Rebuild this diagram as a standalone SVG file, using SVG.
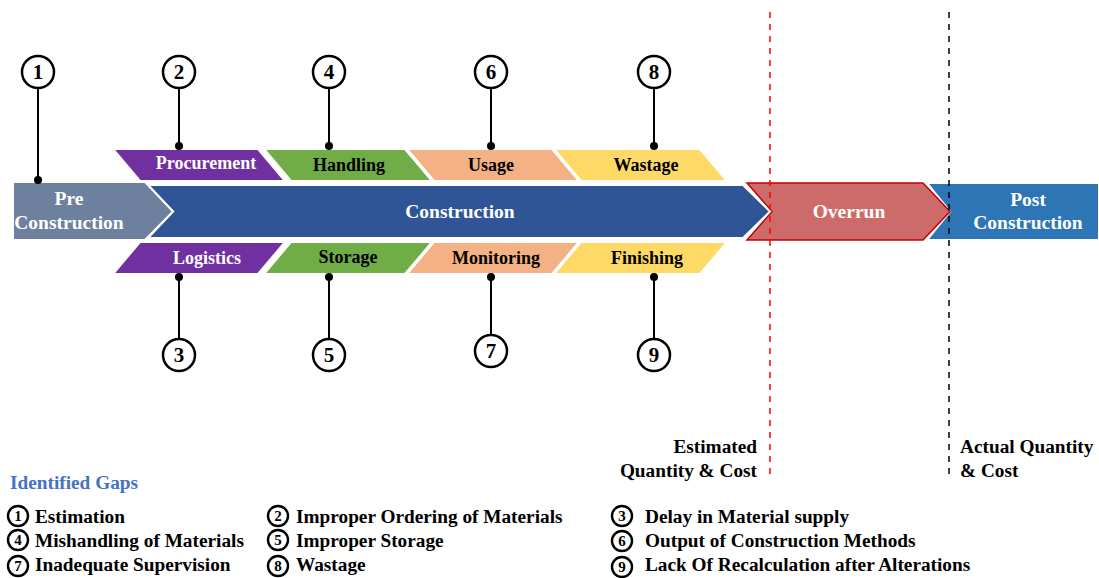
<svg xmlns="http://www.w3.org/2000/svg" width="1099" height="578" viewBox="0 0 1099 578" font-family="Liberation Serif, Times New Roman, serif" font-weight="bold">
<style>
.lbl{font-size:18px;text-anchor:middle}
.big{font-size:19.5px}
.w{fill:#fff}
.k{fill:#000}
.shape{stroke:#fff;stroke-width:2}
.num{fill:#fff;stroke:#000;stroke-width:2.5}
.numt{font-size:21px;text-anchor:middle;fill:#000}
.conn{stroke:#000;stroke-width:2;fill:none}
.dot{fill:#000}
.leg{font-size:19.3px;fill:#000}
.lc{fill:#fff;stroke:#000;stroke-width:2.4}
.lct{font-size:15px;text-anchor:middle;fill:#000}
</style>
<rect width="1099" height="578" fill="#fff"/>

<g id="post-construction">
<polygon class="shape" points="927,183 1099,183 1099,240 927,240 950,211.5" fill="#2e75b6"/>
<text class="lbl big w" x="1028" y="206">Post</text>
<text class="lbl big w" x="1028" y="229">Construction</text>
</g>
<g id="overrun">
<polygon points="747,183 923,183 950,211.5 923,240 747,240 772,211.5" fill="#cd6b6b" stroke="#c00000" stroke-width="1.5"/>
<text class="lbl big w" x="849" y="218">Overrun</text>
</g>
<g id="construction">
<polygon class="shape" points="148,185 743,185 770,211.5 743,238 148,238 173,211.5" fill="#2f5597"/>
<text class="lbl big w" x="460" y="218">Construction</text>
</g>
<g id="pre-construction">
<polygon class="shape" points="13,182 145,182 173,211.5 145,240 13,240" fill="#6d819e"/>
<text class="lbl big w" x="69" y="205">Pre</text>
<text class="lbl big w" x="69" y="229">Construction</text>
</g>

<g id="procurement">
<polygon class="shape" points="113,149 258,149 285,181 140,181" fill="#7030a0"/>
<text class="lbl w" x="206" y="169">Procurement</text>
</g>
<g id="handling">
<polygon class="shape" points="264,149 405,149 432,181 291,181" fill="#70ad47"/>
<text class="lbl k" x="349" y="171">Handling</text>
</g>
<g id="usage">
<polygon class="shape" points="407,149 552,149 579,181 434,181" fill="#f4b183"/>
<text class="lbl k" x="491" y="171">Usage</text>
</g>
<g id="wastage">
<polygon class="shape" points="554,149 700,149 727,181 581,181" fill="#ffd966"/>
<text class="lbl k" x="646" y="171">Wastage</text>
</g>

<g id="logistics">
<polygon class="shape" points="140,242 285,242 258,274 113,274" fill="#7030a0"/>
<text class="lbl w" x="207" y="264">Logistics</text>
</g>
<g id="storage">
<polygon class="shape" points="291,242 432,242 405,274 264,274" fill="#70ad47"/>
<text class="lbl k" x="348" y="263">Storage</text>
</g>
<g id="monitoring">
<polygon class="shape" points="434,242 579,242 552,274 407,274" fill="#f4b183"/>
<text class="lbl k" x="496" y="264">Monitoring</text>
</g>
<g id="finishing">
<polygon class="shape" points="581,242 727,242 700,274 554,274" fill="#ffd966"/>
<text class="lbl k" x="647" y="264">Finishing</text>
</g>

<g id="connectors">
<line class="conn" x1="38" y1="88" x2="38" y2="180"/>
<circle class="dot" cx="38" cy="180" r="4"/>
<line class="conn" x1="179" y1="88" x2="179" y2="146"/>
<circle class="dot" cx="179" cy="146" r="4"/>
<line class="conn" x1="329" y1="88" x2="329" y2="146"/>
<circle class="dot" cx="329" cy="146" r="4"/>
<line class="conn" x1="491" y1="88" x2="491" y2="146"/>
<circle class="dot" cx="491" cy="146" r="4"/>
<line class="conn" x1="654" y1="88" x2="654" y2="146"/>
<circle class="dot" cx="654" cy="146" r="4"/>
<line class="conn" x1="179" y1="277" x2="179" y2="339"/>
<circle class="dot" cx="179" cy="277" r="4"/>
<line class="conn" x1="329" y1="277" x2="329" y2="339"/>
<circle class="dot" cx="329" cy="277" r="4"/>
<line class="conn" x1="491" y1="277" x2="491" y2="335"/>
<circle class="dot" cx="491" cy="277" r="4"/>
<line class="conn" x1="654" y1="277" x2="654" y2="339"/>
<circle class="dot" cx="654" cy="277" r="4"/>
<line x1="770" y1="12" x2="770" y2="476" stroke="#ff0000" stroke-width="1.5" stroke-dasharray="6,6"/>
<line x1="949" y1="12" x2="949" y2="476" stroke="#000" stroke-width="1.5" stroke-dasharray="6,6"/>
</g>

<g id="gap-1"><circle class="num" cx="38" cy="72" r="16"/><text class="numt" x="38" y="79">1</text></g>
<g id="gap-2"><circle class="num" cx="179" cy="72" r="16"/><text class="numt" x="179" y="79">2</text></g>
<g id="gap-4"><circle class="num" cx="329" cy="72" r="16"/><text class="numt" x="329" y="79">4</text></g>
<g id="gap-6"><circle class="num" cx="491" cy="72" r="16"/><text class="numt" x="491" y="79">6</text></g>
<g id="gap-8"><circle class="num" cx="654" cy="72" r="16"/><text class="numt" x="654" y="79">8</text></g>
<g id="gap-3"><circle class="num" cx="179" cy="355" r="16"/><text class="numt" x="179" y="362">3</text></g>
<g id="gap-5"><circle class="num" cx="329" cy="355" r="16"/><text class="numt" x="329" y="362">5</text></g>
<g id="gap-7"><circle class="num" cx="491" cy="351" r="16"/><text class="numt" x="491" y="358">7</text></g>
<g id="gap-9"><circle class="num" cx="654" cy="355" r="16"/><text class="numt" x="654" y="362">9</text></g>

<g id="estimated-label">
<text class="leg" x="757" y="453" text-anchor="end">Estimated</text>
<text class="leg" x="757" y="477" text-anchor="end">Quantity &amp; Cost</text>
</g>
<g id="actual-label">
<text class="leg" x="960" y="453">Actual Quantity</text>
<text class="leg" x="960" y="477">&amp; Cost</text>
</g>

<g id="legend">
<text class="leg" x="10" y="489" style="fill:#4472c4">Identified Gaps</text>
<circle class="lc" cx="18" cy="516" r="10"/><text class="lct" x="18" y="521">1</text>
<text class="leg" x="35" y="523">Estimation</text>
<circle class="lc" cx="18" cy="540" r="10"/><text class="lct" x="18" y="545">4</text>
<text class="leg" x="35" y="547">Mishandling of Materials</text>
<circle class="lc" cx="18" cy="566" r="10"/><text class="lct" x="18" y="571">7</text>
<text class="leg" x="35" y="571">Inadequate Supervision</text>
<circle class="lc" cx="278" cy="516" r="10"/><text class="lct" x="278" y="521">2</text>
<text class="leg" x="296" y="523">Improper Ordering of Materials</text>
<circle class="lc" cx="278" cy="540" r="10"/><text class="lct" x="278" y="545">5</text>
<text class="leg" x="296" y="547">Improper Storage</text>
<circle class="lc" cx="278" cy="566" r="10"/><text class="lct" x="278" y="571">8</text>
<text class="leg" x="296" y="571">Wastage</text>
<circle class="lc" cx="622" cy="516" r="10"/><text class="lct" x="622" y="521">3</text>
<text class="leg" x="645" y="523">Delay in Material supply</text>
<circle class="lc" cx="622" cy="541" r="10"/><text class="lct" x="622" y="546">6</text>
<text class="leg" x="645" y="547">Output of Construction Methods</text>
<circle class="lc" cx="622" cy="567" r="10"/><text class="lct" x="622" y="572">9</text>
<text class="leg" x="645" y="571">Lack Of Recalculation after Alterations</text>
</g>
</svg>
